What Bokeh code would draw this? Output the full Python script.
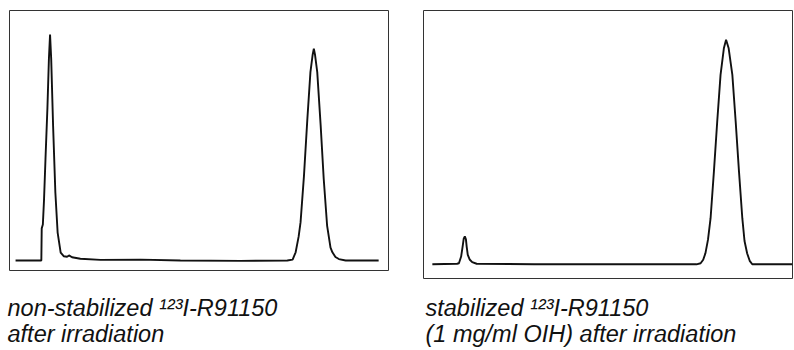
from bokeh.plotting import figure
from bokeh.models import Range1d, Label
from bokeh.layouts import row, column
from bokeh.embed import file_html
from bokeh.resources import INLINE

# Retention time (min) and detector signal (% of full scale)
left_t = [0.16, 0.84, 0.85, 0.88, 0.91, 0.95, 1.00, 1.04, 1.07, 1.10, 1.15, 1.21,
          1.27, 1.35, 1.43, 1.52, 1.57, 1.65, 1.87, 2.40, 3.46, 4.51, 6.10, 7.33,
          7.47, 7.55, 7.63, 7.68, 7.77, 7.86, 7.94, 8.00, 8.03, 8.06, 8.12, 8.21,
          8.29, 8.38, 8.47, 8.52, 8.60, 8.69, 8.87, 9.74]
left_signal = [3.85, 3.85, 16.2, 17.7, 26.9, 43.1, 62.3, 81.5, 90.8, 81.5, 55.8, 30.0,
               14.6, 6.9, 5.5, 5.3, 5.8, 5.1, 4.5, 4.1, 4.2, 3.85, 3.7, 3.85,
               4.2, 7.0, 13.1, 18.6, 36.5, 58.5, 76.3, 83.1, 85.3, 83.1, 76.3, 55.8,
               35.4, 17.3, 8.8, 7.0, 5.2, 4.4, 3.85, 3.85]

right_t = [0.24, 0.91, 0.96, 1.02, 1.06, 1.09, 1.12, 1.15, 1.17, 1.20, 1.25, 1.32,
           1.44, 3.00, 5.00, 7.40, 7.51, 7.58, 7.64, 7.71, 7.78, 7.87, 7.96, 8.05,
           8.14, 8.20, 8.27, 8.37, 8.46, 8.55, 8.64, 8.70, 8.77, 8.84, 8.91, 9.20, 10.0]
right_signal = [5.3, 5.5, 5.7, 8.2, 11.9, 14.9, 15.7, 14.6, 11.9, 8.8, 7.1, 6.1,
                5.5, 5.3, 5.3, 5.3, 5.7, 7.0, 9.4, 14.5, 22.5, 39.9, 58.6, 76.0,
                85.9, 89.1, 85.9, 76.0, 58.6, 39.9, 22.5, 14.0, 9.4, 6.6, 5.3, 5.3, 5.3]

left_caption = ["non-stabilized \u00b9\u00b2\u00b3I-R91150", "after irradiation"]
right_caption = ["stabilized \u00b9\u00b2\u00b3I-R91150", "(1 mg/ml OIH) after irradiation"]

FONT = "Liberation Sans"
TOP_H = 284
CAP_H = 66
W = 794


def make_panel(t, s, fw, fh, bl, br, bt):
    p = figure(output_backend="svg", toolbar_location=None,
               x_axis_type=None, y_axis_type=None,
               frame_width=fw, frame_height=fh,
               min_border_left=bl, min_border_right=br,
               min_border_top=bt, min_border_bottom=TOP_H - bt - fh,
               x_range=Range1d(0, 10), y_range=Range1d(0, 100))
    p.grid.visible = False
    p.outline_line_color = "#333333"
    p.outline_line_width = 1
    p.background_fill_color = "white"
    p.border_fill_color = "white"
    p.line(t, s, line_color="#111111", line_width=1.9)
    return p


p1 = make_panel(left_t, left_signal, 379, 260, 9, 20, 10)
p2 = make_panel(right_t, right_signal, 369, 268, 15, 2, 9)

cap = figure(output_backend="svg", toolbar_location=None,
             x_axis_type=None, y_axis_type=None,
             frame_width=W, frame_height=CAP_H,
             min_border_left=0, min_border_right=0,
             min_border_top=0, min_border_bottom=0,
             x_range=Range1d(0, 1), y_range=Range1d(0, 1))
cap.grid.visible = False
cap.outline_line_color = None
cap.background_fill_color = "white"
cap.border_fill_color = "white"

# screen y of a label measured from the caption strip's lower edge
for captions, cx in [(left_caption, 7), (right_caption, 425)]:
    for txt, yb in zip(captions, [43, 17]):
        cap.add_layout(Label(x=cx, y=yb, x_units="screen", y_units="screen",
                             text=txt, text_font=FONT, text_font_style="italic",
                             text_font_size="23.5px", text_color="#111111",
                             text_baseline="alphabetic", text_align="left"))

layout = column(row(p1, p2), cap)
open("out.html", "w").write(file_html(layout, INLINE))
